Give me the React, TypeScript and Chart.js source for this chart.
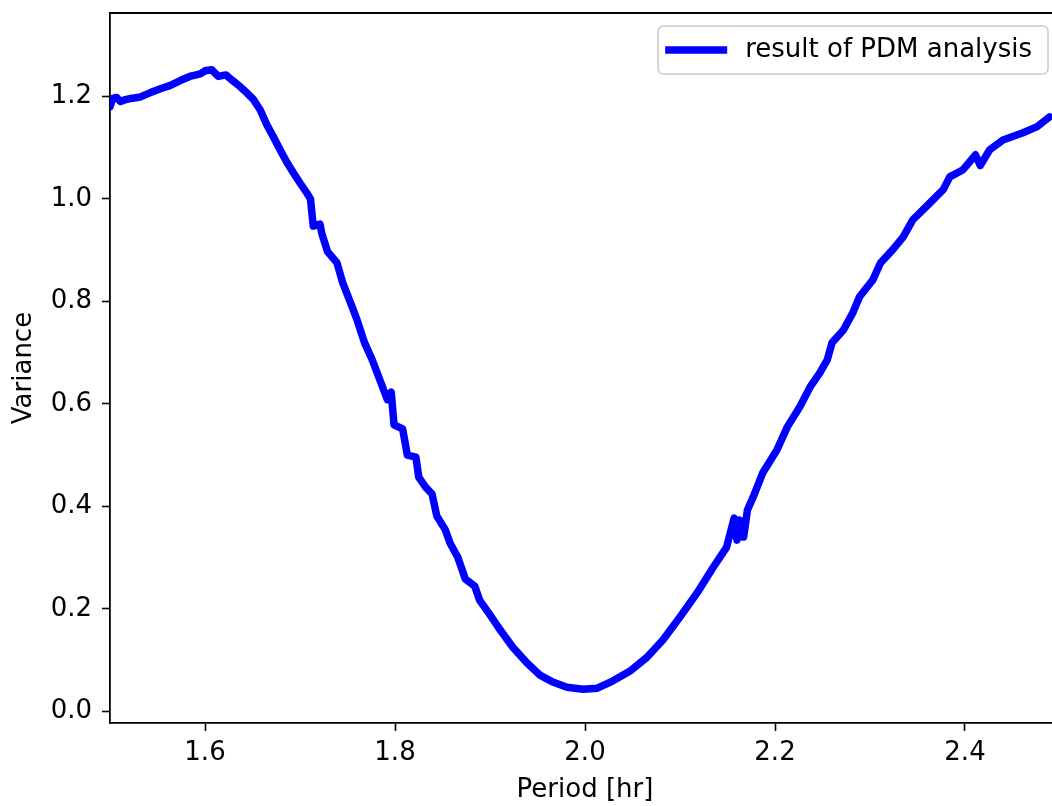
import React, { useEffect, useRef } from "react";
import { Chart, registerables } from "chart.js";

Chart.register(...registerables);

const periods = [1.500,1.503,1.507,1.511,1.515,1.522,1.532,1.542,1.553,1.563,1.574,1.584,1.595,1.600,1.607,1.614,1.622,1.629,1.637,1.644,1.651,1.658,1.665,1.672,1.679,1.686,1.693,1.700,1.707,1.711,1.714,1.721,1.723,1.729,1.739,1.745,1.755,1.760,1.768,1.776,1.784,1.792,1.796,1.799,1.808,1.813,1.822,1.825,1.832,1.839,1.844,1.853,1.858,1.866,1.874,1.884,1.889,1.900,1.911,1.924,1.939,1.953,1.966,1.981,1.998,2.013,2.029,2.047,2.065,2.082,2.100,2.118,2.135,2.149,2.157,2.160,2.163,2.167,2.171,2.177,2.187,2.202,2.213,2.226,2.237,2.247,2.255,2.260,2.272,2.282,2.289,2.303,2.311,2.324,2.335,2.345,2.363,2.377,2.384,2.398,2.411,2.416,2.426,2.440,2.461,2.476,2.489];

const variance = [1.180,1.196,1.198,1.190,1.193,1.196,1.199,1.207,1.215,1.221,1.231,1.239,1.244,1.250,1.252,1.239,1.242,1.231,1.219,1.207,1.194,1.174,1.145,1.121,1.096,1.072,1.051,1.031,1.012,1.000,0.947,0.951,0.932,0.897,0.875,0.836,0.789,0.764,0.719,0.686,0.647,0.608,0.623,0.559,0.551,0.500,0.496,0.457,0.438,0.424,0.381,0.354,0.328,0.301,0.258,0.244,0.217,0.188,0.158,0.125,0.094,0.070,0.057,0.047,0.043,0.045,0.059,0.078,0.105,0.139,0.184,0.231,0.281,0.320,0.377,0.334,0.373,0.340,0.393,0.418,0.465,0.510,0.555,0.594,0.633,0.660,0.686,0.719,0.744,0.778,0.809,0.842,0.875,0.901,0.926,0.959,0.992,1.018,1.043,1.057,1.086,1.065,1.096,1.115,1.129,1.141,1.160];

const xTicks = [1.6, 1.8, 2.0, 2.2, 2.4];
const yTicks = [0.0, 0.2, 0.4, 0.6, 0.8, 1.0, 1.2];

const seriesLabel = "result of PDM analysis";
const xTitle = "Period [hr]";
const yTitle = "Variance";

const FONT = "DejaVu Sans";
const FS = 26;
const BLUE = "#0000ff";

const framePlugin = {
  id: "frameAndLegend",
  afterDraw(chart: any) {
    const { ctx, chartArea } = chart;
    const { left, right, top } = chartArea;
    ctx.save();
    ctx.strokeStyle = "#000";
    ctx.lineWidth = 1.8;
    ctx.beginPath();
    ctx.moveTo(left, top);
    ctx.lineTo(right, top);
    ctx.stroke();
    ctx.beginPath();
    ctx.moveTo(right, top);
    ctx.lineTo(right, chartArea.bottom);
    ctx.stroke();

    // legend
    ctx.font = `${FS}px "${FONT}"`;
    const tw = ctx.measureText(seriesLabel).width;
    const bx1 = right - 12;
    const bw = tw + 103;
    const bx0 = bx1 - bw;
    const by0 = top + 13;
    const bh = 48;
    const r = 5;
    ctx.beginPath();
    ctx.moveTo(bx0 + r, by0);
    ctx.lineTo(bx1 - r, by0);
    ctx.arcTo(bx1, by0, bx1, by0 + r, r);
    ctx.lineTo(bx1, by0 + bh - r);
    ctx.arcTo(bx1, by0 + bh, bx1 - r, by0 + bh, r);
    ctx.lineTo(bx0 + r, by0 + bh);
    ctx.arcTo(bx0, by0 + bh, bx0, by0 + bh - r, r);
    ctx.lineTo(bx0, by0 + r);
    ctx.arcTo(bx0, by0, bx0 + r, by0, r);
    ctx.closePath();
    ctx.fillStyle = "rgba(255,255,255,0.8)";
    ctx.fill();
    ctx.strokeStyle = "#cccccc";
    ctx.lineWidth = 1.6;
    ctx.stroke();

    const ly = by0 + bh / 2;
    ctx.strokeStyle = BLUE;
    ctx.lineWidth = 7.5;
    ctx.lineCap = "butt";
    ctx.beginPath();
    ctx.moveTo(bx0 + 7, ly);
    ctx.lineTo(bx0 + 69, ly);
    ctx.stroke();

    ctx.fillStyle = "#000";
    ctx.textBaseline = "middle";
    ctx.textAlign = "left";
    ctx.fillText(seriesLabel, bx0 + 87, ly);
    ctx.restore();
  },
};

export default function App() {
  const ref = useRef<HTMLCanvasElement | null>(null);

  useEffect(() => {
    const canvas = ref.current;
    if (!canvas) return;
    const points = periods.map((p, i) => ({ x: p, y: variance[i] }));
    const chart = new Chart(canvas, {
      type: "line",
      data: {
        datasets: [
          {
            label: seriesLabel,
            data: points,
            borderColor: BLUE,
            backgroundColor: BLUE,
            borderWidth: 7.5,
            pointRadius: 0,
            tension: 0,
            borderJoinStyle: "round",
            borderCapStyle: "round",
            fill: false,
          },
        ],
      },
      options: {
        animation: false,
        responsive: false,
        devicePixelRatio: 1,
        layout: { padding: { top: 13, right: 40, left: 0, bottom: 0 } },
        plugins: {
          legend: { display: false },
          tooltip: { enabled: false },
        },
        scales: {
          x: {
            type: "linear",
            min: 1.5,
            max: 2.5,
            afterBuildTicks: (axis: any) => {
              axis.ticks = xTicks.map((v) => ({ value: v }));
            },
            afterFit: (scale: any) => {
              scale.height = 83;
              scale.paddingLeft = 0;
              scale.paddingRight = 0;
            },
            grid: {
              display: true,
              drawOnChartArea: false,
              drawTicks: true,
              tickLength: 8,
              tickWidth: 1.6,
              tickColor: "#000",
            },
            border: { display: true, color: "#000", width: 1.8 },
            ticks: {
              color: "#000",
              font: { family: FONT, size: FS },
              padding: 7,
              maxRotation: 0,
              autoSkip: false,
              callback: (v: any) => Number(v).toFixed(1),
            },
            title: {
              display: true,
              text: xTitle,
              color: "#000",
              font: { family: FONT, size: FS },
              padding: { top: 0, bottom: 0 },
            },
          },
          y: {
            type: "linear",
            min: -0.0229,
            max: 1.3628,
            afterBuildTicks: (axis: any) => {
              axis.ticks = yTicks.map((v) => ({ value: v }));
            },
            afterFit: (scale: any) => {
              scale.width = 110;
              scale.paddingTop = 0;
              scale.paddingBottom = 0;
            },
            grid: {
              display: true,
              drawOnChartArea: false,
              drawTicks: true,
              tickLength: 8,
              tickWidth: 1.6,
              tickColor: "#000",
            },
            border: { display: true, color: "#000", width: 1.8 },
            ticks: {
              color: "#000",
              font: { family: FONT, size: FS },
              padding: 10,
              autoSkip: false,
              callback: (v: any) => Number(v).toFixed(1),
            },
            title: {
              display: true,
              text: yTitle,
              color: "#000",
              font: { family: FONT, size: FS },
              padding: { top: 9, bottom: 0 },
            },
          },
        },
      },
      plugins: [framePlugin],
    });
    return () => chart.destroy();
  }, []);

  return (
    <div
      style={{
        position: "absolute",
        left: 0,
        top: 0,
        width: 1052,
        height: 806,
        overflow: "hidden",
        background: "#fff",
      }}
    >
      <canvas ref={ref} width={1100} height={806} style={{ width: 1100, height: 806, display: "block" }} />
    </div>
  );
}
